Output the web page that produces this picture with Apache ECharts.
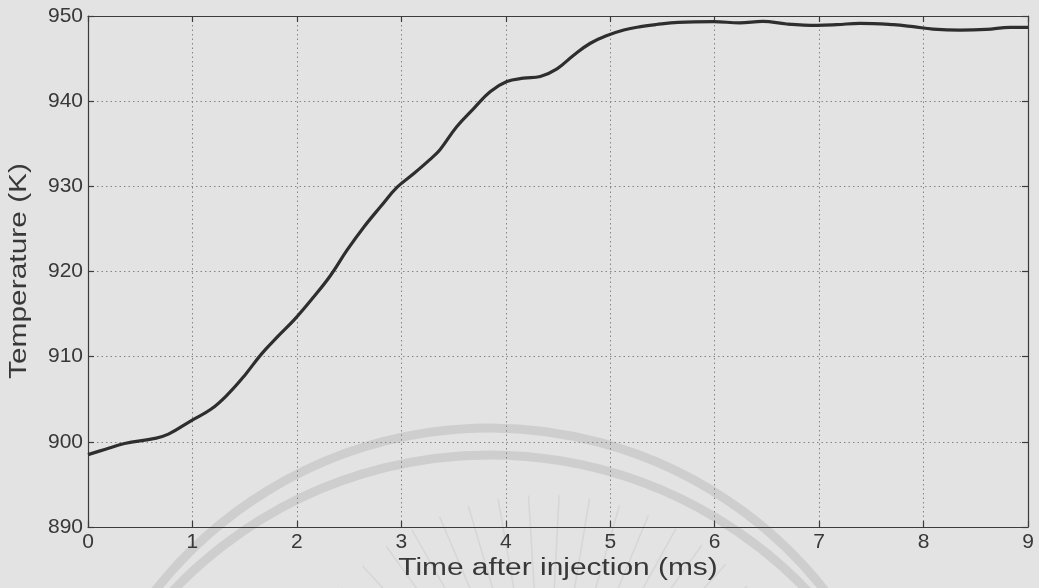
<!DOCTYPE html>
<html>
<head>
<meta charset="utf-8">
<script src="https://cdn.jsdelivr.net/npm/echarts@6/dist/echarts.min.js"></script>
<style>
  html, body { margin: 0; padding: 0; background: #e3e3e3; }
  #chart { width: 1039px; height: 588px; }
</style>
</head>
<body>
<div id="chart"></div>
<script>
// Time after injection (ms)
const timeMs = [0, 0.16, 0.35, 0.64, 0.77, 0.99, 1.18, 1.34, 1.5, 1.66, 1.82, 1.98,
  2.16, 2.32, 2.48, 2.64, 2.8, 2.96, 3.12, 3.27, 3.37, 3.53, 3.69, 3.85, 4.01, 4.17,
  4.33, 4.49, 4.65, 4.81, 4.97, 5.13, 5.29, 5.44, 5.65, 5.99, 6.24, 6.46, 6.69, 6.98,
  7.17, 7.39, 7.71, 7.9, 8.09, 8.35, 8.6, 8.83, 9.0];
// Gas temperature (K)
const temperatureK = [898.5, 899.1, 899.8, 900.4, 900.9, 902.5, 903.85, 905.6, 907.8,
  910.3, 912.4, 914.4, 917.0, 919.5, 922.5, 925.2, 927.6, 929.9, 931.5, 933.1, 934.3,
  937.0, 939.1, 941.1, 942.3, 942.7, 942.9, 943.8, 945.4, 946.8, 947.7, 948.35, 948.75,
  949.0, 949.25, 949.33, 949.2, 949.37, 949.06, 948.9, 948.98, 949.14, 948.98, 948.75,
  948.47, 948.35, 948.43, 948.67, 948.67];

const xTicks = { min: 0, max: 9, step: 1 };
const yTicks = { min: 890, max: 950, step: 10 };
const xTitle = 'Time after injection (ms)';
const yTitle = 'Temperature (K)';

const FONT = '"Liberation Sans", Arial, Helvetica, sans-serif';
const AXIS_COLOR = '#3c3c3c';
const TEXT_COLOR = '#383838';

const chart = echarts.init(document.getElementById('chart'), null, { renderer: 'canvas' });

// faint stamp in the paper: two arcs and a fan of thin rays
const stampColor = 'rgba(175,175,175,0.4)';
const decor = [
  { type: 'arc', shape: { cx: 490, cy: 854, r: 426, startAngle: -2.5, endAngle: -0.64 },
    style: { fill: null, stroke: stampColor, lineWidth: 9 }, silent: true, z: -1 },
  { type: 'arc', shape: { cx: 490, cy: 893, r: 438, startAngle: -2.6, endAngle: -0.54 },
    style: { fill: null, stroke: stampColor, lineWidth: 9 }, silent: true, z: -1 }
];
for (let a = -152; a <= -28; a += 6.5) {
  const rad = a * Math.PI / 180;
  decor.push({
    type: 'line',
    shape: {
      x1: 545 + 170 * Math.cos(rad), y1: 765 + 170 * Math.sin(rad),
      x2: 545 + 270 * Math.cos(rad), y2: 765 + 270 * Math.sin(rad)
    },
    style: { stroke: 'rgba(170,170,170,0.22)', lineWidth: 1.5 }, silent: true, z: -1
  });
}

// axis titles, set in a wide-running face
decor.push({
  type: 'text', x: 558, y: 569, scaleX: 1.3, z: 10,
  style: { text: xTitle, font: '23px ' + FONT, fill: TEXT_COLOR, align: 'center', verticalAlign: 'middle' }
});
decor.push({
  type: 'text', x: 20, y: 271, rotation: Math.PI / 2, scaleX: 1.3, z: 10,
  style: { text: yTitle, font: '23px ' + FONT, fill: TEXT_COLOR, align: 'center', verticalAlign: 'middle' }
});

const baseX = {
  type: 'value', min: xTicks.min, max: xTicks.max, interval: xTicks.step,
  axisLine: { show: true, onZero: false, lineStyle: { color: AXIS_COLOR, width: 1.2 } },
  axisTick: { show: true, inside: true, length: 6, lineStyle: { color: AXIS_COLOR, width: 1.2 } }
};
const baseY = {
  type: 'value', min: yTicks.min, max: yTicks.max, interval: yTicks.step,
  axisLine: { show: true, onZero: false, lineStyle: { color: AXIS_COLOR, width: 1.2 } },
  axisTick: { show: true, inside: true, length: 6, lineStyle: { color: AXIS_COLOR, width: 1.2 } }
};
const gridLine = { show: true, lineStyle: { color: '#858585', width: 1, type: [1.5, 3] } };

chart.setOption({
  backgroundColor: '#e3e3e3',
  animation: false,
  grid: { left: 88, right: 11, top: 16, bottom: 61, containLabel: false, outerBoundsMode: 'none' },
  graphic: decor,
  xAxis: [
    Object.assign({}, baseX, {
      position: 'bottom',
      axisLabel: { fontFamily: FONT, fontSize: 21, color: TEXT_COLOR, margin: 5 },
      splitLine: gridLine
    }),
    Object.assign({}, baseX, {
      position: 'top', axisLabel: { show: false }, splitLine: { show: false }
    })
  ],
  yAxis: [
    Object.assign({}, baseY, {
      position: 'left',
      axisLabel: { fontFamily: FONT, fontSize: 21, color: TEXT_COLOR, margin: 5 },
      splitLine: gridLine
    }),
    Object.assign({}, baseY, {
      position: 'right', axisLabel: { show: false }, splitLine: { show: false }
    })
  ],
  series: [{
    type: 'line',
    data: timeMs.map((t, i) => [t, temperatureK[i]]),
    showSymbol: false,
    smooth: 0.4,
    lineStyle: { color: '#2e2e2e', width: 3.2 },
    z: 5
  }]
});
</script>
</body>
</html>
